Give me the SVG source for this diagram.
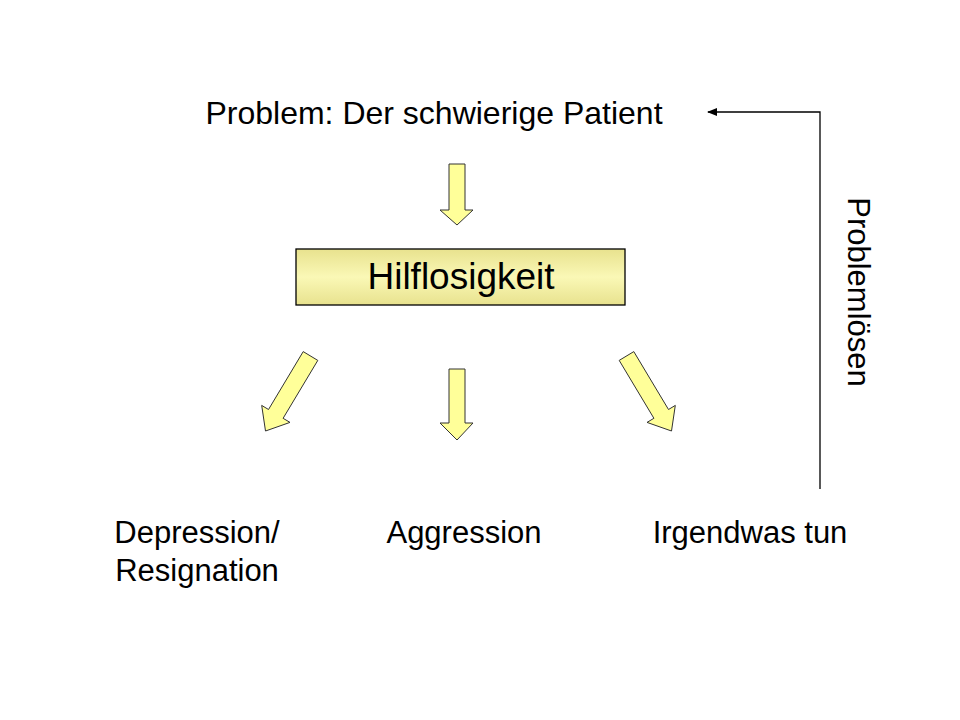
<svg xmlns="http://www.w3.org/2000/svg" width="960" height="720" viewBox="0 0 960 720">
  <defs>
    <style>
      .t { font-family: "Liberation Sans", Arial, sans-serif; font-size: 31px; fill: #000; }
      .top { font-size: 32px; }
      .big { font-size: 37px; }
      .arr { fill: #FFFF99; stroke: #333; stroke-width: 1; stroke-linejoin: miter; }
      .conn { fill: none; stroke: #000; stroke-width: 1.3; }
    </style>
    <linearGradient id="boxg" x1="0" y1="0" x2="0" y2="1">
      <stop offset="0" stop-color="#E8E28E"/>
      <stop offset="0.5" stop-color="#FAF8B6"/>
      <stop offset="1" stop-color="#E8E28E"/>
    </linearGradient>
    <marker id="ah" markerWidth="10" markerHeight="8" refX="9" refY="4" orient="auto" markerUnits="userSpaceOnUse">
      <path d="M0,0 L10,4 L0,8 Z" fill="#000"/>
    </marker>
  </defs>
  <rect width="960" height="720" fill="#fff"/>

  <g id="problem">
    <text class="t top" x="434" y="124" text-anchor="middle">Problem: Der schwierige Patient</text>
  </g>

  <g id="hilflosigkeit">
    <rect x="296" y="249" width="329" height="56" fill="url(#boxg)" stroke="#000" stroke-width="1.3"/>
    <text class="t big" x="461" y="289" text-anchor="middle">Hilflosigkeit</text>
  </g>

  <g id="depression">
    <text class="t" x="197" y="543" text-anchor="middle">Depression/</text>
    <text class="t" x="197" y="581" text-anchor="middle">Resignation</text>
  </g>

  <g id="aggression">
    <text class="t" x="464" y="543" text-anchor="middle">Aggression</text>
  </g>

  <g id="irgendwas">
    <text class="t" x="750" y="543" text-anchor="middle">Irgendwas tun</text>
  </g>

  <g id="connectors">
    <polygon class="arr" points="449,164 465,164 465,210 473,210 457,225 440,210 449,210"/>
    <polygon class="arr" points="449,369 465,369 465,423 473,423 457,440 440,423 449,423"/>
    <polygon class="arr" points="303.2,351.6 317.8,360.4 283.1,418.3 290,422.4 265.5,431 261.7,405.4 268.5,409.5"/>
    <polygon class="arr" points="633.8,351.6 619.2,360.4 653.9,418.3 647,422.4 671.5,431 675.3,405.4 668.5,409.5"/>
    <polyline class="conn" points="820,489 820,112 708,112" marker-end="url(#ah)"/>
    <text class="t" transform="translate(848,292) rotate(90)" text-anchor="middle">Problemlösen</text>
  </g>
</svg>
